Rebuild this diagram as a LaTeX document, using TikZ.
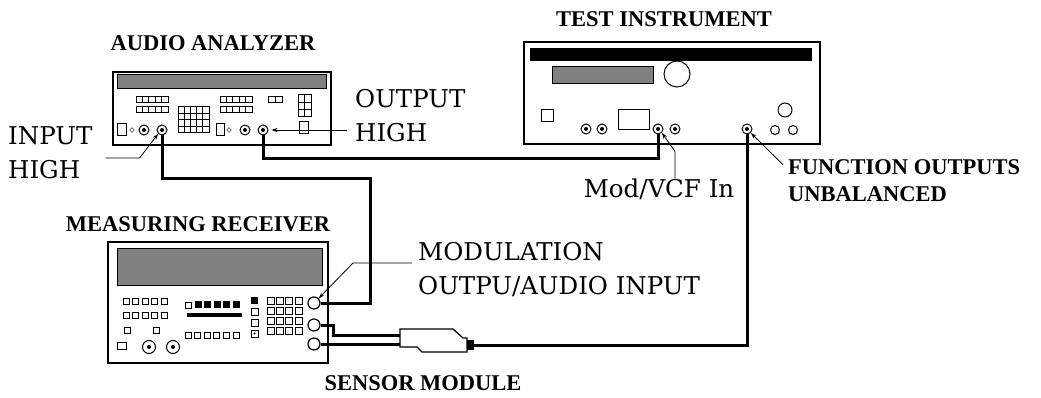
\documentclass[tikz,border=0pt]{standalone}
\usepackage{fontspec}
\newfontfamily\headfont{Liberation Serif}
\newfontfamily\tagfont{DejaVu Serif}
\usetikzlibrary{shapes.geometric,arrows.meta}
\begin{document}
\begin{tikzpicture}[x=1pt,y=-1pt,
    title/.style={font=\headfont\fontsize{22.5}{27}\selectfont\bfseries,inner sep=0pt,align=left},
    label/.style={font=\tagfont\fontsize{24.5}{34}\selectfont,inner sep=0pt,align=left},
    panel/.style={draw,line width=1.6pt},
    screen/.style={draw,line width=1pt,fill=black!50},
    key/.style={draw,line width=1pt},
    jack/.style={circle,draw,line width=1pt,minimum size=10pt,inner sep=0pt,
        path picture={\fill (path picture bounding box.center) circle (2pt);}},
    port/.style={circle,draw,line width=1.2pt,minimum size=12pt,inner sep=0pt},
    cable/.style={line width=3pt},
    lead/.style={line width=0.8pt,-{Stealth[length=6pt,width=4pt]}}]

    \useasboundingbox (0,0) rectangle (1041,398);

    % titles
    \node[title] (aa) at (213,43) {AUDIO ANALYZER};
    \node[title] (ti) at (664,19) {TEST INSTRUMENT};
    \node[title] (mr) at (198,224) {MEASURING RECEIVER};
    \node[title] (sm) at (423,383) {SENSOR MODULE};
    \node[title,anchor=west] (fo) at (788,181) {FUNCTION OUTPUTS\\UNBALANCED};

    % audio analyzer
    \draw[panel]  (113,72) rectangle (331,145);
    \draw[screen] (117,75) rectangle (326,89);
    \foreach \x in {136,220}
        \foreach \y in {97,107}
            \foreach \i in {0,...,4}
                \draw[key] (\x+\i*6.4,\y) rectangle ++(6.4,6);
    \foreach \i in {0,...,4}
        \foreach \j in {0,...,3}
            \draw[key] (178+\i*6.2,107+\j*6.5) rectangle ++(6.2,6.5);
    \foreach \i in {0,1}
        \draw[key] (268+\i*7,97) rectangle ++(7,6);
    \foreach \i in {0,1}
        \foreach \j in {0,...,2}
            \draw[key] (298+\i*6.5,95+\j*7.3) rectangle ++(6.5,7.3);
    \draw[key] (299,122) rectangle (308,134);
    \draw[key] (117,124) rectangle (126,136);
    \draw[key] (216,124) rectangle (224,136);
    \node[draw,diamond,inner sep=0pt,minimum size=5pt] (d1) at (132,130) {};
    \node[draw,diamond,inner sep=0pt,minimum size=5pt] (d2) at (229,130) {};
    \node[jack] (aaA)   at (144,130) {};
    \node[jack] (aaIn)  at (162,130) {};
    \node[jack] (aaB)   at (245,130) {};
    \node[jack] (aaOut) at (263,130) {};

    % test instrument
    \draw[panel]  (524,42) rectangle (820,144);
    \fill (530,48) rectangle (812,61);
    \draw[screen] (552,67) rectangle (653,84);
    \draw[line width=1pt] (677,74) circle (13);
    \draw[key] (541,110) rectangle (553,122);
    \draw[key] (618,110) rectangle (649,130);
    \draw[line width=1pt] (785,110) circle (7);
    \draw[line width=1pt] (775,130) circle (4.5);
    \draw[line width=1pt] (793,130) circle (4.5);
    \node[jack] (tiA)   at (586,129) {};
    \node[jack] (tiB)   at (602,129) {};
    \node[jack] (tiMod) at (658,129) {};
    \node[jack] (tiC)   at (675,129) {};
    \node[jack] (tiFn)  at (747,129) {};

    % measuring receiver
    \draw[panel]  (108,242) rectangle (328,363);
    \draw[screen] (117,248) rectangle (322,285);
    \foreach \y in {298,312}
        \foreach \i in {0,...,4}
            \draw[key] (123+\i*9.6,\y) rectangle ++(6,6);
    \draw[key] (124,327) rectangle ++(6,6);
    \draw[key] (153,327) rectangle ++(6,6);
    \draw[key] (117,342) rectangle (126,349);
    \node[jack,minimum size=13pt] (k1) at (149,347) {};
    \node[jack,minimum size=13pt] (k2) at (173,347) {};
    \draw[key] (185,302) rectangle ++(6,6);
    \foreach \i in {1,...,5}
        \fill (185+\i*9.6,301) rectangle ++(7,7);
    \fill (187,313) rectangle (242,317);
    \foreach \i in {0,...,5}
        \draw[key] (185+\i*9.6,332) rectangle ++(6,6);
    \fill (251,297) rectangle ++(7,7);
    \foreach \j in {1,...,3}
        \draw[key] (251,297+\j*11) rectangle ++(7,7);
    \fill (254.5,333.5) circle (1.2);
    \foreach \i in {0,...,3}
        \foreach \j in {0,...,3}
            \draw[key] (267+\i*9.4,297+\j*10) rectangle ++(7,7);
    \node[port] (mrMod) at (314,303) {};
    \node[port] (mrB)   at (314,325) {};
    \node[port] (mrC)   at (314,344) {};

    % sensor module
    \draw[line width=1.2pt] (400,329) -- (453,329) -- (463,338) -- (467,338) -- (467,352)
        -- (422,352) -- (417,347) -- (400,347) -- cycle;
    \fill (467,340) rectangle (474,350);
    \coordinate (smIn1) at (400,335);
    \coordinate (smIn2) at (400,344);
    \coordinate (smTip) at (474,345);

    % cables
    \draw[cable] (aaIn.south) -- ++(0,43) -| (370,303) -- (mrMod.east);
    \draw[cable] (aaOut.south) -- ++(0,23) -| (tiMod.south);
    \draw[cable] (tiFn.south) |- (smTip);
    \draw[cable] (mrB.east) -- ++(13,0) |- (smIn1);
    \draw[cable] (mrC.east) -- (smIn2);

    % labels
    \node[label,anchor=west] (inhi)   at (8,153)   {INPUT\\HIGH};
    \node[label,anchor=west] (outhi)  at (355,116) {OUTPUT\\HIGH};
    \node[label]             (mod)    at (659,189) {Mod/VCF In};
    \node[label,anchor=west] (modout) at (418,270) {MODULATION\\OUTPU/AUDIO INPUT};

    \draw[lead] (inhi.east) ++(13,5) -- ++(34,0) -- (aaIn.south west);
    \draw[lead,shorten >=3pt] (outhi.west |- aaOut) ++(-8,0) -- (aaOut.east);
    \draw[lead] ([xshift=16pt]mod.north) -- ++(0,-27) -- (tiMod.south east);
    \draw[lead] (fo.north west) ++(-5,5) -- (tiFn.south east);
    \draw[lead] (modout.west) ++(-6,-7) -- ++(-59,0) -- (mrMod.north east);
\end{tikzpicture}
\end{document}
